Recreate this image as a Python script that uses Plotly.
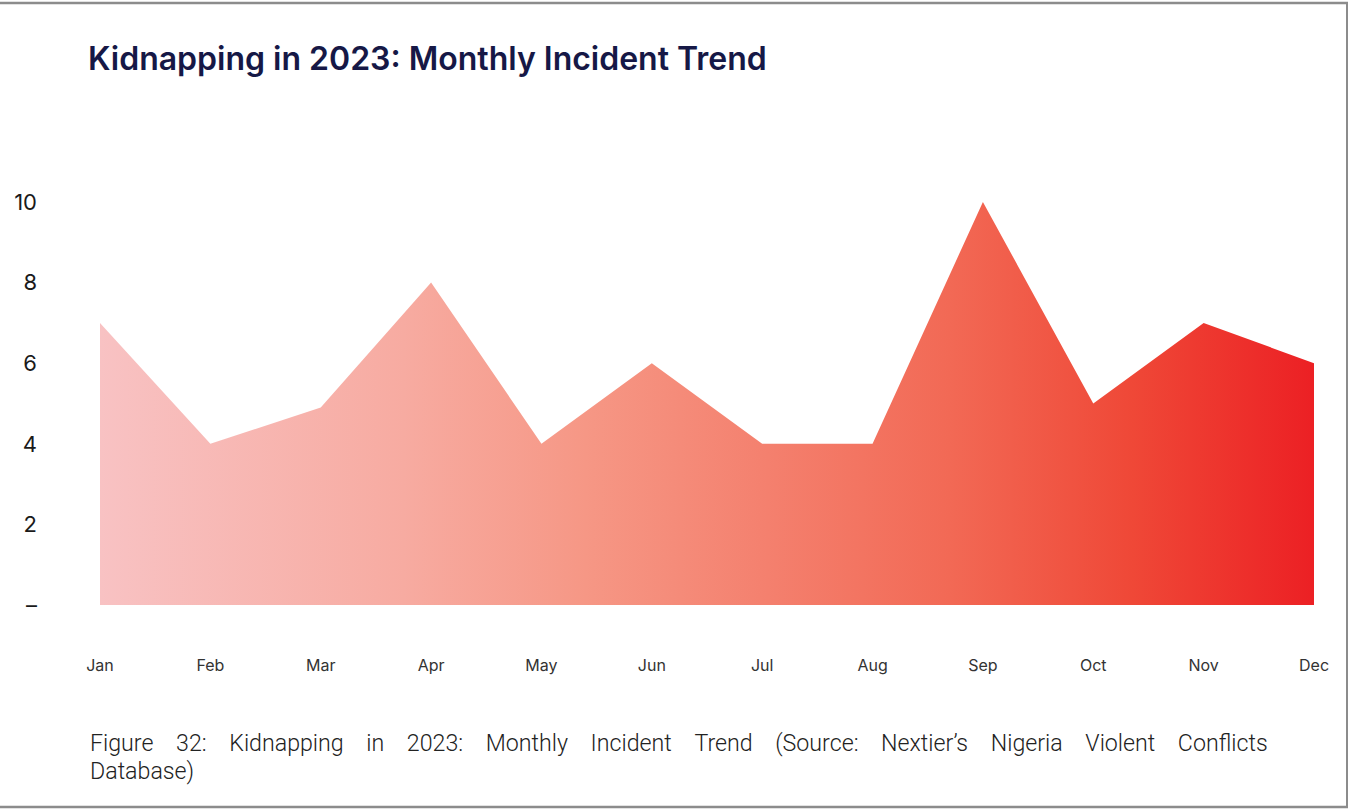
import plotly.graph_objects as go

# Monthly kidnapping incidents, 2023
months = ["Jan", "Feb", "Mar", "Apr", "May", "Jun",
          "Jul", "Aug", "Sep", "Oct", "Nov", "Dec"]
incidents = [7, 4, 4.9, 8, 4, 6, 4, 4, 10, 5, 7, 6]

y_tick_vals = [0, 2, 4, 6, 8, 10]
y_tick_text = ["–", "2", "4", "6", "8", "10"]

title_text = "Kidnapping in 2023: Monthly Incident Trend"
caption_line1 = ("Figure 32: Kidnapping in 2023: Monthly Incident Trend "
                 "(Source: Nextier’s Nigeria Violent Conflicts")
caption_line2 = "Database)"

W, H = 1350, 810
ML, MR, MT, MB = 100, 36, 202, 205
PW, PH = W - ML - MR, H - MT - MB


def px(x):
    return (x - ML) / PW


def py(y):
    return (H - MB - y) / PH


x_idx = list(range(len(months)))

fig = go.Figure()
fig.add_trace(go.Scatter(
    x=x_idx,
    y=incidents,
    mode="lines",
    line=dict(width=0, color="rgba(0,0,0,0)"),
    fill="tozeroy",
    fillgradient=dict(
        type="horizontal",
        colorscale=[
            [0.0, "#F8C2C3"],
            [0.25, "#F7ABA1"],
            [0.4, "#F69785"],
            [0.55, "#F4806E"],
            [0.7, "#F26955"],
            [0.85, "#EF4837"],
            [1.0, "#EC2024"],
        ],
    ),
    hoverinfo="x+y",
    showlegend=False,
))

# word gaps widened to give the caption a justified look
spaced_line1 = " &nbsp;&nbsp;&nbsp;".join(caption_line1.split(" "))

caption_font = dict(family="Roboto", size=23.2, weight=300, color="#222222")

fig.update_layout(
    width=W,
    height=H,
    margin=dict(l=ML, r=MR, t=MT, b=MB),
    paper_bgcolor="white",
    plot_bgcolor="white",
    font=dict(family="Inter, Roboto, sans-serif", color="#222222"),
    title=dict(
        text=title_text,
        xref="container", yref="container",
        x=88 / W, y=1 - 59 / H,
        xanchor="left", yanchor="middle",
        font=dict(family="Inter", size=32, weight=600, color="#161846"),
    ),
    xaxis=dict(
        range=[0, len(months) - 1],
        tickvals=x_idx,
        ticktext=months,
        showgrid=False,
        zeroline=False,
        showline=False,
        ticks="",
        ticklabelstandoff=49,
        tickfont=dict(family="Inter", size=16, color="#333333"),
        fixedrange=True,
    ),
    yaxis=dict(
        range=[0, 10],
        tickvals=y_tick_vals,
        ticktext=y_tick_text,
        showgrid=False,
        zeroline=False,
        showline=False,
        ticks="",
        ticklabelstandoff=62,
        tickfont=dict(family="Inter", size=22, color="#1A1A1A"),
        fixedrange=True,
    ),
    annotations=[
        dict(
            text=spaced_line1,
            xref="paper", yref="paper",
            x=px(88), y=py(743),
            xanchor="left", yanchor="middle",
            showarrow=False,
            font=caption_font,
        ),
        dict(
            text=caption_line2,
            xref="paper", yref="paper",
            x=px(88), y=py(771),
            xanchor="left", yanchor="middle",
            showarrow=False,
            font=caption_font,
        ),
    ],
    shapes=[
        dict(type="line", xref="paper", yref="paper",
             x0=px(0), x1=px(1348), y0=py(3), y1=py(3),
             line=dict(color="#8C8C8C", width=2.5)),
        dict(type="line", xref="paper", yref="paper",
             x0=px(1347), x1=px(1347), y0=py(3), y1=py(807),
             line=dict(color="#8C8C8C", width=2)),
        dict(type="line", xref="paper", yref="paper",
             x0=px(0), x1=px(1348), y0=py(807), y1=py(807),
             line=dict(color="#8C8C8C", width=2.5)),
    ],
)

fig.write_html("out.html")
